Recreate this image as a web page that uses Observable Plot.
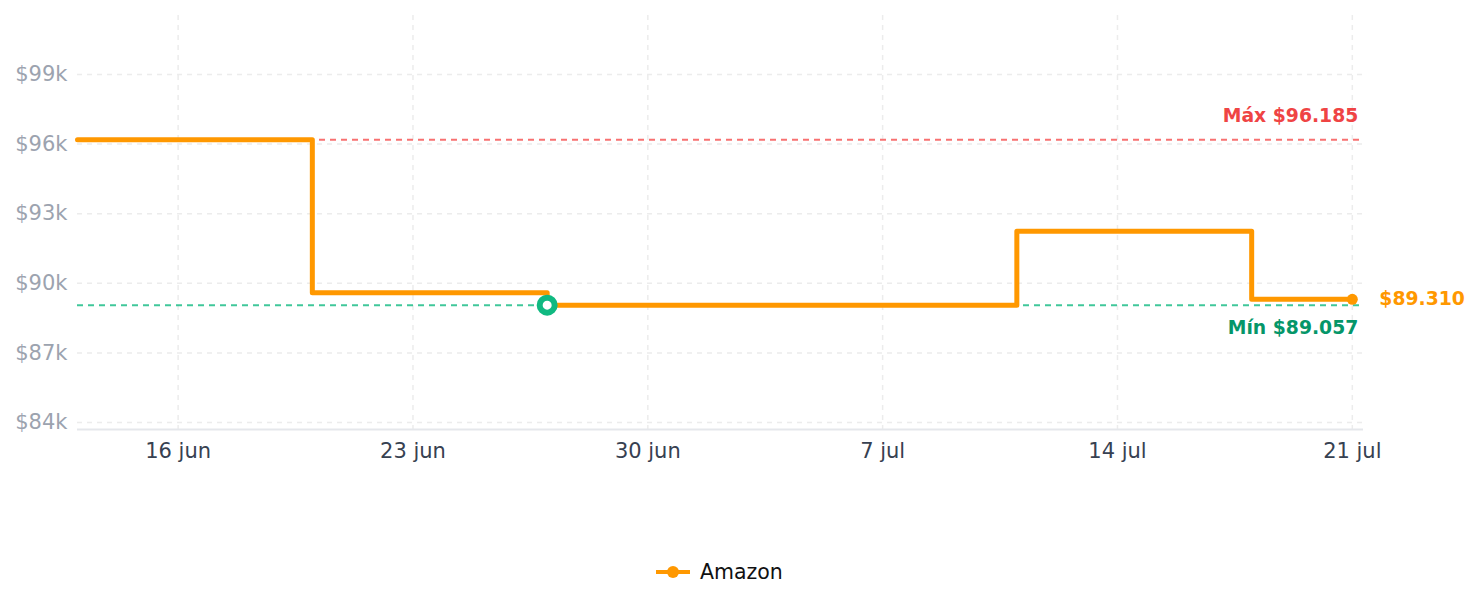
<!DOCTYPE html>
<html>
<head>
<meta charset="utf-8">
<script src="https://cdn.jsdelivr.net/npm/d3@7"></script>
<script src="https://cdn.jsdelivr.net/npm/@observablehq/plot@0.6"></script>
<style>
  body { margin: 0; background: #fff; font-family: "DejaVu Sans", sans-serif; }
  #legend { position: relative; height: 24px; width: 1479px; margin-top: 80px; }
  #legend span.item { position: absolute; left: 656px; top: 0; display: inline-flex; align-items: center; gap: 10px; font-size: 20.5px; color: #111; line-height: 24px; }
</style>
</head>
<body>
<div id="chart"></div>
<div id="legend"></div>
<script>
// Data
const dates = ["2025-06-13", "2025-06-20", "2025-06-27", "2025-07-11", "2025-07-18", "2025-07-21"];
const prices = [96185, 89590, 89057, 92240, 89310, 89310];
const seriesName = "Amazon";
const yTicks = [84000, 87000, 90000, 93000, 96000, 99000];
const xTickDates = ["2025-06-16", "2025-06-23", "2025-06-30", "2025-07-07", "2025-07-14", "2025-07-21"];
const monthNames = ["ene","feb","mar","abr","may","jun","jul","ago","sep","oct","nov","dic"];
const maxLabel = "Máx $96.185";
const minLabel = "Mín $89.057";
const lastLabel = "$89.310";

const parse = d3.utcParse("%Y-%m-%d");
const data = dates.map((d, i) => ({date: parse(d), price: prices[i]}));
const xTicks = xTickDates.map(parse);
const maxV = d3.max(prices), minV = d3.min(prices);
const minPt = data[prices.indexOf(minV)];
const lastPt = data[data.length - 1];

const orange = "#ff9800";
const xDomain = [parse("2025-06-13"), new Date(Date.UTC(2025, 6, 21, 8))];
const yDomain = [83698, 101543];

const chart = Plot.plot({
  width: 1479,
  height: 480,
  marginLeft: 77,
  marginRight: 116,
  marginTop: 15,
  marginBottom: 51,
  style: {fontFamily: "DejaVu Sans, sans-serif", fontSize: "20px", background: "#fff"},
  x: {type: "utc", domain: xDomain, label: null},
  y: {domain: yDomain, label: null},
  marks: [
    // grid
    Plot.ruleX(xTicks, {stroke: "#ececec", strokeWidth: 1.5, strokeDasharray: "5 5"}),
    Plot.ruleY(yTicks, {stroke: "#ececec", strokeWidth: 1.5, strokeDasharray: "5 5"}),
    // bottom axis line
    Plot.ruleY([yDomain[0]], {stroke: "#e5e7eb", strokeWidth: 2}),
    Plot.axisX({ticks: xTicks, tickSize: 0, tickPadding: 14, fill: "#374151", fontSize: 21, label: null,
      tickFormat: d => `${d.getUTCDate()} ${monthNames[d.getUTCMonth()]}`}),
    Plot.axisY({ticks: yTicks, tickSize: 0, tickPadding: 10, fill: "#9ca3af", fontSize: 21, label: null,
      tickFormat: d => `$${d / 1000}k`}),
    // reference lines
    Plot.ruleY([maxV], {stroke: "#f87171", strokeWidth: 2, strokeDasharray: "6 5", x1: xDomain[0], x2: xDomain[1]}),
    Plot.ruleY([minV], {stroke: "#10b981", strokeOpacity: 0.8, strokeWidth: 2, strokeDasharray: "6 5", x1: xDomain[0], x2: xDomain[1]}),
    // price line
    Plot.line(data, {x: "date", y: "price", curve: "step-after", stroke: orange, strokeWidth: 5}),
    // min marker
    Plot.dot([minPt], {x: "date", y: "price", r: 7.5, fill: "#fff", stroke: "#10b981", strokeWidth: 6}),
    // last point
    Plot.dot([lastPt], {x: "date", y: "price", r: 5.5, fill: orange}),
    // labels
    Plot.text([maxLabel], {x: () => lastPt.date, y: () => maxV, text: d => d, textAnchor: "end", dx: 6, dy: -24,
      fill: "#ef4444", fontWeight: "bold", fontSize: 18.8}),
    Plot.text([minLabel], {x: () => lastPt.date, y: () => minV, text: d => d, textAnchor: "end", dx: 6, dy: 23,
      fill: "#059669", fontWeight: "bold", fontSize: 18.8}),
    Plot.text([lastLabel], {x: () => lastPt.date, y: () => lastPt.price, text: d => d, textAnchor: "start", dx: 27,
      fill: orange, fontWeight: "bold", fontSize: 18.8})
  ]
});
document.getElementById("chart").appendChild(chart);

document.getElementById("legend").innerHTML =
  `<span class="item"><svg width="34" height="14"><line x1="0" y1="7" x2="34" y2="7" stroke="${orange}" stroke-width="4"/><circle cx="17" cy="7" r="6" fill="${orange}"/></svg><span>${seriesName}</span></span>`;
</script>
</body>
</html>
